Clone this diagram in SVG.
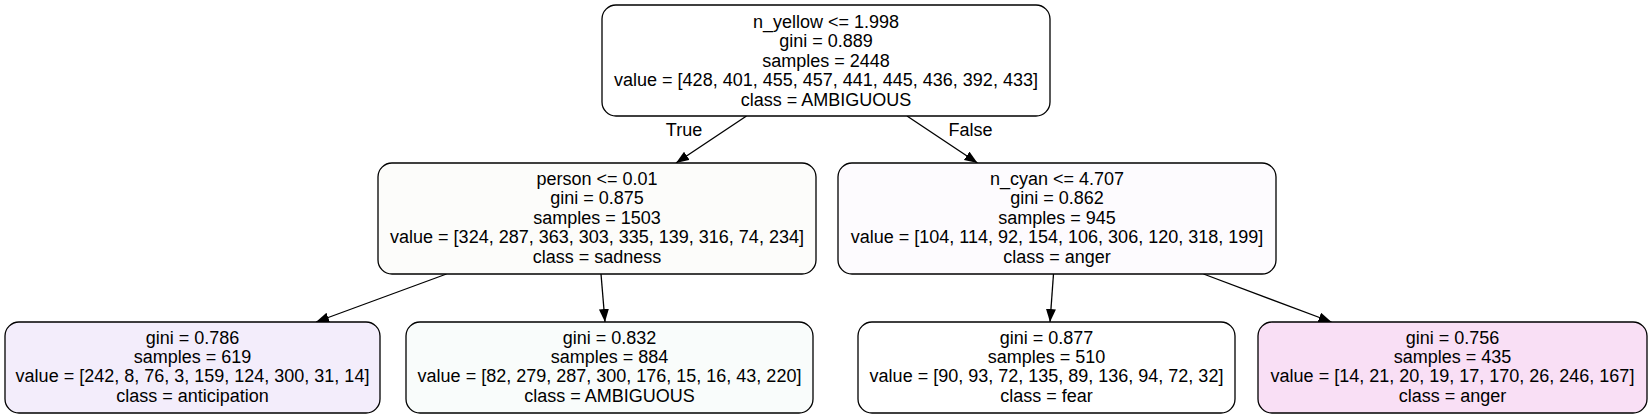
<svg xmlns="http://www.w3.org/2000/svg" width="1651" height="419" viewBox="0 0 1651 419">
<style>
.box{stroke:#000;stroke-width:1.3}
text{font-family:"Liberation Sans",Arial,Helvetica,sans-serif;font-size:18px;fill:#000;text-anchor:middle}
.edge{stroke:#000;stroke-width:1.3;fill:none;marker-end:url(#arr)}
</style>
<defs>
<marker id="arr" markerUnits="userSpaceOnUse" markerWidth="14" markerHeight="11" refX="13" refY="5" orient="auto">
<path d="M0,0 L13,5 L0,10 z" fill="#000"/>
</marker>
</defs>
<rect width="1651" height="419" fill="#fff"/>
<g id="edges">
<line class="edge" x1="746.5" y1="116" x2="676" y2="163"/>
<line class="edge" x1="907" y1="116" x2="977.5" y2="163"/>
<line class="edge" x1="446.5" y1="274" x2="316" y2="322"/>
<line class="edge" x1="601" y1="274" x2="605" y2="322"/>
<line class="edge" x1="1053.5" y1="274" x2="1050" y2="322"/>
<line class="edge" x1="1203.5" y1="274" x2="1331.5" y2="322"/>
<text x="684" y="136">True</text>
<text x="970.5" y="136">False</text>
</g>
<g id="node0">
<rect class="box" x="602" y="5" width="448" height="111" rx="14" fill="#ffffff"/>
<text x="826" y="28">n_yellow &lt;= 1.998</text>
<text x="826" y="47.4">gini = 0.889</text>
<text x="826" y="66.8">samples = 2448</text>
<text x="826" y="86.2">value = [428, 401, 455, 457, 441, 445, 436, 392, 433]</text>
<text x="826" y="105.6">class = AMBIGUOUS</text>
</g>
<g id="node1">
<rect class="box" x="378" y="163" width="438" height="111" rx="14" fill="#fcfcfa"/>
<text x="597" y="185">person &lt;= 0.01</text>
<text x="597" y="204.4">gini = 0.875</text>
<text x="597" y="223.8">samples = 1503</text>
<text x="597" y="243.2">value = [324, 287, 363, 303, 335, 139, 316, 74, 234]</text>
<text x="597" y="262.6">class = sadness</text>
</g>
<g id="node4">
<rect class="box" x="838" y="163" width="438" height="111" rx="14" fill="#fdfbfe"/>
<text x="1057" y="185">n_cyan &lt;= 4.707</text>
<text x="1057" y="204.4">gini = 0.862</text>
<text x="1057" y="223.8">samples = 945</text>
<text x="1057" y="243.2">value = [104, 114, 92, 154, 106, 306, 120, 318, 199]</text>
<text x="1057" y="262.6">class = anger</text>
</g>
<g id="node2">
<rect class="box" x="5" y="322" width="375" height="91" rx="14" fill="#f3edfb"/>
<text x="192.5" y="343.5">gini = 0.786</text>
<text x="192.5" y="362.9">samples = 619</text>
<text x="192.5" y="382.3">value = [242, 8, 76, 3, 159, 124, 300, 31, 14]</text>
<text x="192.5" y="401.7">class = anticipation</text>
</g>
<g id="node3">
<rect class="box" x="406" y="322" width="407" height="91" rx="14" fill="#f9fcfb"/>
<text x="609.5" y="343.5">gini = 0.832</text>
<text x="609.5" y="362.9">samples = 884</text>
<text x="609.5" y="382.3">value = [82, 279, 287, 300, 176, 15, 16, 43, 220]</text>
<text x="609.5" y="401.7">class = AMBIGUOUS</text>
</g>
<g id="node5">
<rect class="box" x="858" y="322" width="377" height="91" rx="14" fill="#ffffff"/>
<text x="1046.5" y="343.5">gini = 0.877</text>
<text x="1046.5" y="362.9">samples = 510</text>
<text x="1046.5" y="382.3">value = [90, 93, 72, 135, 89, 136, 94, 72, 32]</text>
<text x="1046.5" y="401.7">class = fear</text>
</g>
<g id="node6">
<rect class="box" x="1258" y="322" width="389" height="91" rx="14" fill="#f9dff5"/>
<text x="1452.5" y="343.5">gini = 0.756</text>
<text x="1452.5" y="362.9">samples = 435</text>
<text x="1452.5" y="382.3">value = [14, 21, 20, 19, 17, 170, 26, 246, 167]</text>
<text x="1452.5" y="401.7">class = anger</text>
</g>
</svg>
